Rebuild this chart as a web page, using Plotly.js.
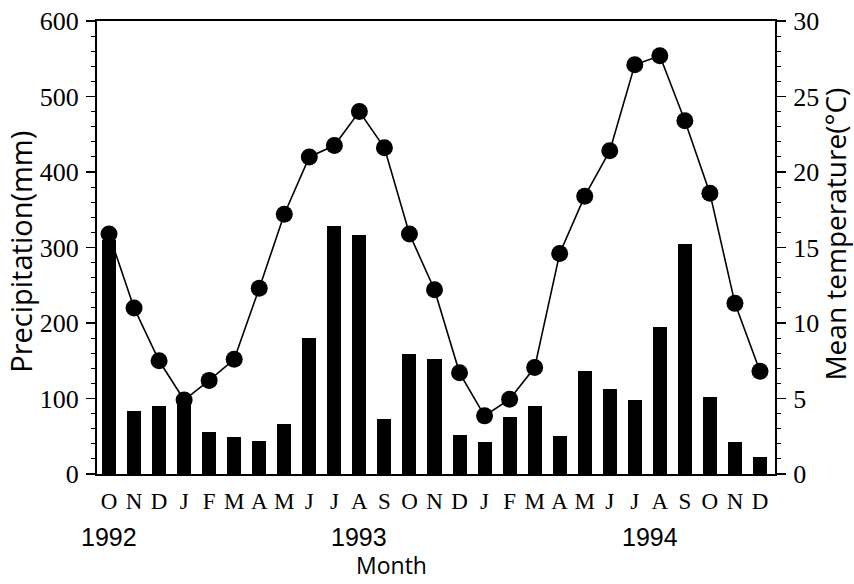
<!DOCTYPE html>
<html>
<head>
<meta charset="utf-8">
<script src="https://cdn.plot.ly/plotly-3.0.1.min.js"></script>
<style>html,body{margin:0;padding:0;background:#fff}#chart{width:854px;height:584px}</style>
</head>
<body>
<div id="chart"></div>
<script>
// Months Oct 1992 – Dec 1994
const months = ['O','N','D','J','F','M','A','M','J','J','A','S','O','N','D','J','F','M','A','M','J','J','A','S','O','N','D'];
// Monthly precipitation (mm)
const precipitation = [310, 83, 90, 95, 56, 49, 44, 66, 180, 328, 317, 73, 159, 152, 52, 43, 76, 90, 51, 136, 112, 98, 195, 305, 102, 42, 23];
// Mean temperature (°C)
const temperature = [15.9, 11.0, 7.5, 4.9, 6.2, 7.6, 12.3, 17.2, 21.0, 21.75, 24.0, 21.6, 15.9, 12.2, 6.7, 3.85, 4.95, 7.05, 14.6, 18.4, 21.4, 27.1, 27.7, 23.4, 18.6, 11.3, 6.8];
// Year labels and the month index they sit under
const years = ['1992', '1993', '1994'];
const yearIndex = [0, 10, 21.6];

const idx = months.map((m, i) => i);

const bars = {
  type: 'bar', x: idx, y: precipitation, width: 0.56,
  marker: {color: '#000', line: {width: 0}},
  yaxis: 'y', hoverinfo: 'skip', showlegend: false
};
const temp = {
  type: 'scatter', mode: 'lines+markers', x: idx, y: temperature,
  line: {color: '#000', width: 1.6},
  marker: {color: '#000', size: 17, symbol: 'circle'},
  yaxis: 'y2', showlegend: false
};

const serif = 'Liberation Serif, Times New Roman, serif';
const sans = 'Liberation Sans, Arial, sans-serif';
const titleFont = 'Open Sans, Noto Sans, sans-serif';

const annotations = years.map((t, i) => ({
  text: t, x: yearIndex[i], xref: 'x', y: -0.14, yref: 'paper',
  yanchor: 'middle', xanchor: 'center', showarrow: false, borderpad: 0,
  font: {family: sans, size: 25, color: '#000'}
}));
annotations.push({text: 'Month', xref: 'x', x: (392 - 109) / 25.04, yref: 'paper', y: -0.2,
  yanchor: 'middle', xanchor: 'center', showarrow: false, borderpad: 0,
  font: {family: titleFont, size: 23, color: '#000'}});
annotations.push({text: 'Precipitation(mm)', textangle: -90, xref: 'paper', x: -0.114, xanchor: 'center',
  yref: 'paper', y: 0.49, yanchor: 'middle', showarrow: false, borderpad: 0,
  font: {family: titleFont, size: 29, color: '#000'}});
annotations.push({text: 'Mean temperature(°C)', textangle: -90, xref: 'paper', x: 1.088, xanchor: 'center',
  yref: 'paper', y: 0.53, yanchor: 'middle', showarrow: false, borderpad: 0,
  font: {family: titleFont, size: 28, color: '#000'}});

const layout = {
  width: 854, height: 584,
  margin: {l: 97, r: 79, t: 21, b: 110},
  paper_bgcolor: '#fff', plot_bgcolor: '#fff',
  bargap: 0,
  xaxis: {
    range: [-0.48, 26.6], tickmode: 'array', tickvals: idx, ticktext: months,
    ticks: '', showgrid: false, zeroline: false,
    showline: true, mirror: true, linecolor: '#000', linewidth: 2,
    tickfont: {family: serif, size: 23, color: '#000'}, ticklabelstandoff: 5
  },
  yaxis: {
    range: [0, 600], dtick: 100, tick0: 0, ticks: 'outside', ticklen: 9, tickwidth: 1.2, tickcolor: '#000',
    minor: {dtick: 20, ticks: 'outside', ticklen: 4, tickcolor: '#000', tickwidth: 1},
    showgrid: false, zeroline: false, showline: true, linecolor: '#000', linewidth: 2,
    tickfont: {family: serif, size: 26, color: '#000'}, ticklabelstandoff: 2
  },
  yaxis2: {
    range: [0, 30], dtick: 5, tick0: 0, overlaying: 'y', side: 'right',
    ticks: 'outside', ticklen: 9, tickwidth: 1.2, tickcolor: '#000',
    minor: {dtick: 1, ticks: 'outside', ticklen: 4, tickcolor: '#000', tickwidth: 1},
    showgrid: false, zeroline: false, showline: true, linecolor: '#000', linewidth: 2,
    tickfont: {family: serif, size: 26, color: '#000'}, ticklabelstandoff: 2
  },
  annotations: annotations
};

Plotly.newPlot('chart', [bars, temp], layout, {displayModeBar: false, staticPlot: true});
</script>
</body>
</html>
